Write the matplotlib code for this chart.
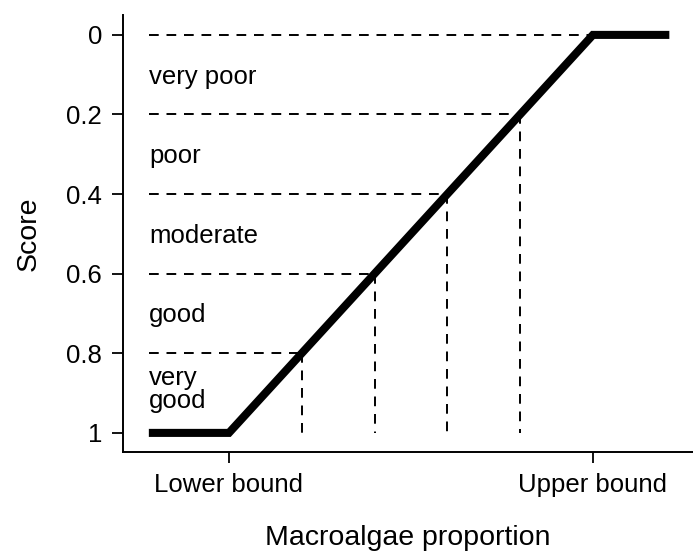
import matplotlib
matplotlib.use("Agg")
import matplotlib.pyplot as plt

plt.rcParams['font.family'] = ['Liberation Sans', 'DejaVu Sans']

# Data
line_x = [-0.22, 0.0, 1.0, 1.21]
line_y = [1.0, 1.0, 0.0, 0.0]
thresholds = [0.0, 0.2, 0.4, 0.6, 0.8]
class_labels = ["very poor", "poor", "moderate", "good", "very\ngood"]
class_label_y = [0.105, 0.305, 0.505, 0.705, 0.89]
x_tick_pos = [0.0, 1.0]
x_tick_labels = ["Lower bound", "Upper bound"]
y_ticks = [0, 0.2, 0.4, 0.6, 0.8, 1]
y_tick_labels = ["0", "0.2", "0.4", "0.6", "0.8", "1"]

fig = plt.figure(figsize=(6.93, 5.54), dpi=100)
ax = fig.add_axes([123/693, 102/554, 1 - 123/693, (452-15)/554])

x_left = -0.22
dash = (5.0, 4.0)
for t in thresholds:
    xr = 1.0 - t  # where line reaches score t
    ax.plot([x_left, xr], [t, t], color='black', lw=1.4, dashes=dash)
    if t > 0:
        ax.plot([xr, xr], [t, 1.0], color='black', lw=1.4, dashes=dash)

ax.plot(line_x, line_y, color='black', lw=5.8, solid_capstyle='butt', solid_joinstyle='miter')

for lab, ly in zip(class_labels, class_label_y):
    ax.text(x_left, ly, lab, fontsize=18.5, ha='left', va='center', linespacing=0.95)

ax.set_xlim(-0.291, 1.275)
ax.set_ylim(1.048, -0.05)
ax.set_xticks(x_tick_pos)
ax.set_xticklabels(x_tick_labels, fontsize=18.5)
ax.set_yticks(y_ticks)
ax.set_yticklabels(y_tick_labels, fontsize=18.5)
ax.tick_params(axis='x', length=8, width=1.3, pad=7)
ax.tick_params(axis='y', length=8, width=1.3, pad=7)
for s in ['top', 'right']:
    ax.spines[s].set_visible(False)
for s in ['left', 'bottom']:
    ax.spines[s].set_linewidth(1.4)

ax.set_xlabel("Macroalgae proportion", fontsize=20.5, labelpad=20)
ax.set_ylabel("Score", fontsize=20.5, labelpad=18)

fig.savefig("out.png", dpi=100)
